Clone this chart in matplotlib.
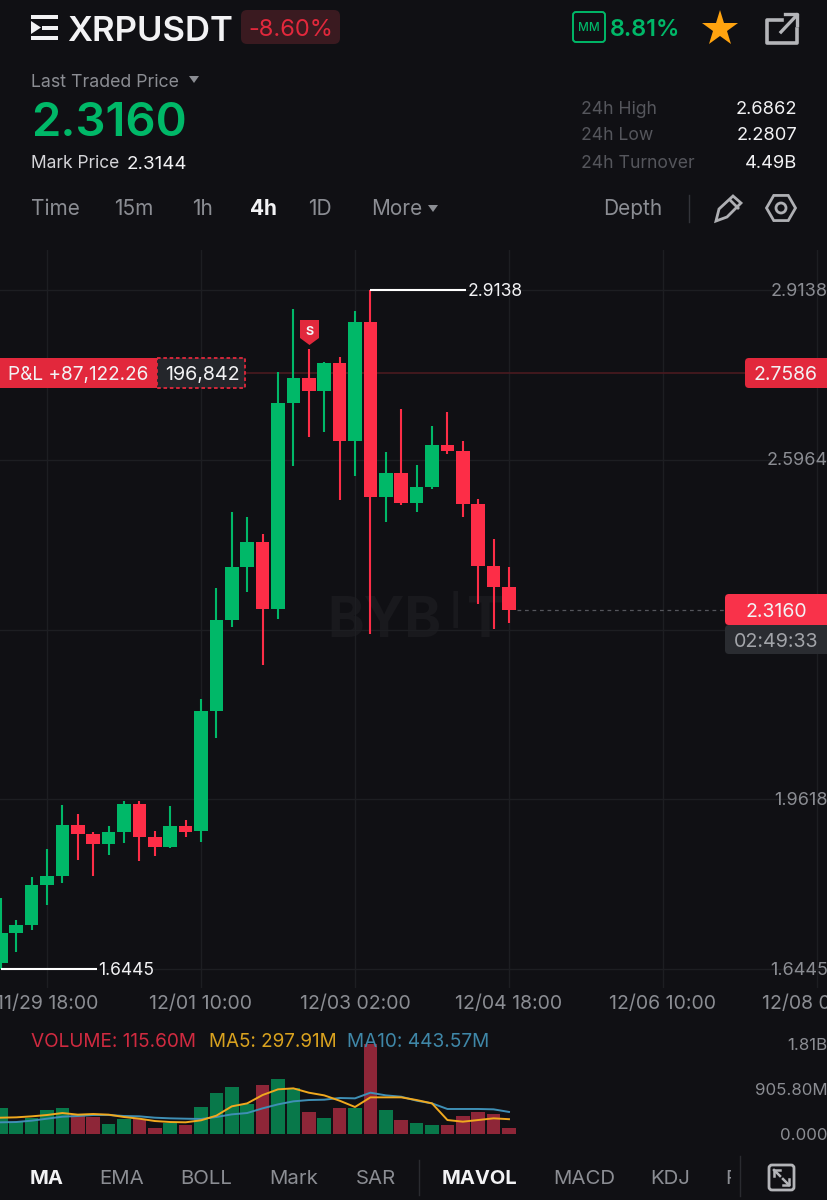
import matplotlib
matplotlib.use('Agg')
import matplotlib.pyplot as plt
from matplotlib.patches import Rectangle, Polygon, FancyBboxPatch, Circle, RegularPolygon
from matplotlib.transforms import blended_transform_factory

plt.rcParams['font.family'] = ['Inter', 'DejaVu Sans']

# candles, oldest first
opens = [1.6552, 1.7118, 1.7268, 1.8015, 1.8184, 1.9137, 1.8969, 1.8782, 1.9006, 1.9524, 1.8918, 1.8731,
         1.9124, 1.9025, 2.1268, 2.2969, 2.3966, 2.4422, 2.3169, 2.7020, 2.7499, 2.7250, 2.7768, 2.6315,
         2.8540, 2.5263, 2.5723, 2.5151, 2.5461, 2.6246, 2.6128, 2.5143, 2.3984, 2.3592]
closes = [1.7112, 1.7268, 1.8015, 1.8184, 1.9137, 1.8969, 1.8782, 1.9006, 1.9524, 1.8918, 1.8731, 1.9124,
          1.9012, 2.1268, 2.2969, 2.3966, 2.4422, 2.3169, 2.7020, 2.7499, 2.7250, 2.7768, 2.6315, 2.8540,
          2.5263, 2.5723, 2.5151, 2.5461, 2.6246, 2.6128, 2.5143, 2.3984, 2.3592, 2.3160]
highs = [1.7767, 1.7361, 1.8159, 1.8683, 1.9505, 1.9343, 1.9006, 1.9118, 1.9591, 1.9586, 1.9030, 1.9492,
         1.9230, 2.1487, 2.3562, 2.4994, 2.4900, 2.4577, 2.7611, 2.8789, 2.8035, 2.7798, 2.7891, 2.8751,
         2.9138, 2.6110, 2.6908, 2.5867, 2.6602, 2.6863, 2.6321, 2.5237, 2.4478, 2.3966]
lows = [1.6445, 1.6768, 1.7174, 1.7641, 1.8047, 1.8483, 1.8184, 1.8571, 1.8795, 1.8470, 1.8563, 1.8701,
        1.8918, 1.8814, 2.0769, 2.2844, 2.3498, 2.2128, 2.2982, 2.5848, 2.6385, 2.6489, 2.5212, 2.5661,
        2.2707, 2.4801, 2.5114, 2.4994, 2.5418, 2.6072, 2.4889, 2.3263, 2.2801, 2.2907]
volumes = [516, 248, 315, 482, 516, 382, 348, 201, 301, 295, 121, 228, 181, 536, 824, 945, 603, 978,
           1105, 918, 435, 328, 516, 529, 1810, 482, 281, 221, 181, 181, 362, 442, 395, 115.6]
ma5 = [328, 335, 355, 382, 422, 389, 402, 389, 342, 308, 261, 241, 235, 275, 369, 556, 616, 784,
       898, 918, 831, 777, 670, 543, 737, 737, 737, 683, 616, 281, 248, 281, 315, 297.91]
ma10 = [235, 241, 268, 308, 348, 362, 382, 382, 362, 355, 328, 315, 308, 302, 342, 395, 422, 516,
        596, 657, 683, 690, 724, 717, 831, 777, 750, 670, 616, 503, 503, 503, 496, 443.57]

price_ticks = [2.9138, 2.5964, 2.2791, 1.9618, 1.6445]
price_labels = ['2.9138', '2.5964', '', '1.9618', '1.6445']
date_pos = [3, 13, 23, 33, 43, 53]
date_labels = ['11/29 18:00', '12/01 10:00', '12/03 02:00', '12/04 18:00', '12/06 10:00', '12/08 02:00']
vol_labels = ['1.81B', '905.80M', '0.000']

BG = '#101014'
GREEN = '#00b868'
RED = '#fd2d47'
TAG = '#e2283c'
GREY = '#8b8d93'
DIM = '#55565c'
WHITE = '#f2f2f4'
GRID = '#1d1e22'

W, H = 828, 1200
fig = plt.figure(figsize=(8.28, 12), dpi=100, facecolor=BG)

def px_axes(top, bottom):
    return fig.add_axes([0, 1 - bottom / H, 1, (bottom - top) / H])

# x: 15.4 px per candle, first candle at 0.8 px
xlim = (-0.8 / 15.4, (W - 0.8) / 15.4)
idx = list(range(len(opens)))
cols = [GREEN if c >= o else RED for o, c in zip(opens, closes)]

# price panel
ax = px_axes(250, 988)
ax.set_facecolor('none')
ax.set_xlim(xlim)
ax.set_ylim(1.6090, 2.9886)
for s in ax.spines.values():
    s.set_visible(False)
ax.set_xticks(date_pos)
ax.set_xticklabels(date_labels, fontsize=14, color=GREY)
ax.tick_params(axis='x', length=0, pad=5)
ax.set_yticks(price_ticks)
ax.tick_params(axis='y', length=0, labelleft=False)
ax.grid(True, color=GRID, lw=1)
ax.set_axisbelow(True)

# watermark
ax.text(24.9, 2.2932, 'BYB', fontsize=40, fontweight='bold', color='#19191d', ha='center', va='center', zorder=0.5)
ax.text(29.5, 2.3080, 'I', fontsize=36, fontweight='normal', color='#19191d', ha='center', va='center', zorder=0.5)
ax.text(31.5, 2.2932, 'T', fontsize=40, fontweight='bold', color='#19191d', ha='center', va='center', zorder=0.5)

ax.axhline(2.7586, color='#4a1a20', lw=1.2, zorder=1)
ax.plot([33.5, 47.1], [2.3160, 2.3160], color='#55565c', lw=0.9, ls=(0, (3, 3)), zorder=1)

ax.vlines(idx, lows, highs, colors=cols, lw=1.5, zorder=2)
ax.bar(idx, [abs(c - o) for o, c in zip(opens, closes)], bottom=[min(o, c) for o, c in zip(opens, closes)],
       width=0.88, color=cols, zorder=3)

ax.plot([24, 30.2], [2.9138, 2.9138], color='white', lw=1.5, zorder=4, solid_capstyle='butt')
ax.text(30.3, 2.9110, '2.9138', color=WHITE, fontsize=12.6, va='center', ha='left')
ax.plot([0, 6.25], [1.6445, 1.6445], color='white', lw=1.5, zorder=4, solid_capstyle='butt')
ax.text(6.3, 1.6417, '1.6445', color=WHITE, fontsize=12.6, va='center', ha='left')

tr = blended_transform_factory(fig.transFigure, ax.transData)
for p, lab in zip(price_ticks, price_labels):
    ax.text(1.0, p - 0.002, lab, transform=tr, color=GREY, fontsize=13, ha='right', va='center')

# volume panel
vax = px_axes(1030, 1134)
vax.set_facecolor('none')
vax.set_xlim(xlim)
vax.set_ylim(0, 1810 * 104 / 90)
vax.axis('off')
vcols = ['#08784a' if c >= o else '#8e2638' for o, c in zip(opens, closes)]
vax.bar(idx, volumes, width=0.88, color=vcols, zorder=2)
vax.plot(idx, ma10, color='#3f8fb5', lw=1.4, zorder=3)
vax.plot(idx, ma5, color='#f0a81e', lw=1.4, zorder=4)

# everything else in pixel coords
ui = fig.add_axes([0, 0, 1, 1], facecolor='none')
ui.set_xlim(0, W)
ui.set_ylim(H, 0)
ui.axis('off')

def t(x, y, s, size=13, color=WHITE, ha='left', weight='normal', z=10):
    return ui.text(x, y + 0.15 * size, s, fontsize=size, color=color, ha=ha, va='center', fontweight=weight, zorder=z)

def rbox(x0, y0, x1, y1, r, fc='none', ec='none', lw=0, z=5, ls='-'):
    ui.add_patch(FancyBboxPatch((x0 + r, y0 + r), x1 - x0 - 2 * r, y1 - y0 - 2 * r,
                                boxstyle='round,pad=%g,rounding_size=%g' % (r, r),
                                fc=fc, ec=ec, lw=lw, zorder=z, ls=ls))

# header
for yy, x1 in [(17, 58), (38, 58)]:
    ui.add_patch(Rectangle((31, yy - 2), x1 - 31, 4, fc=WHITE, zorder=5))
ui.add_patch(Rectangle((42, 25.5), 16, 4, fc=WHITE, zorder=5))
ui.add_patch(Polygon([[31, 21], [41, 27.5], [31, 34]], fc=WHITE, zorder=5))
t(67, 28, 'XRPUSDT', 25, WHITE, weight='semibold')
rbox(241, 10, 340, 44, 6, fc='#3a1a20')
t(290.5, 27, '-8.60%', 17, TAG, ha='center')

rbox(573, 12, 605, 42, 3, ec=GREEN, lw=1.4)
t(589, 27, 'MM', 8.5, GREEN, ha='center', weight='medium')
t(610, 27, '8.81%', 16.8, GREEN, weight='semibold')
ui.plot([720], [29], marker='*', ms=27, color='#ffa30f', zorder=6, mew=0)
# share icon
ui.plot([782, 767, 767, 797, 797], [20, 20, 43, 43, 29], color='#b4b5b9', lw=2.6, zorder=6)
ui.plot([781, 797], [32, 15], color='#b4b5b9', lw=2.4, zorder=6)
ui.plot([785, 797, 797], [14, 14, 25], color='#b4b5b9', lw=2.4, zorder=6)

t(31, 81, 'Last Traded Price', 12.8, GREY)
ui.add_patch(Polygon([[189, 76], [199, 76], [194, 83]], fc=GREY, zorder=6))
t(31, 119, '2.3160', 34, GREEN, weight='semibold')
t(31, 162, 'Mark Price', 12.5, '#d4d4d8')
t(127, 162, '2.3144', 13.5, WHITE)

for y, lab, val in [(108, '24h High', '2.6862'), (134, '24h Low', '2.2807'), (162, '24h Turnover', '4.49B')]:
    t(581, y, lab, 12.7, DIM)
    t(797, y, val, 13.2, WHITE, ha='right')

for x, lab in [(31, 'Time'), (114, '15m'), (192, '1h'), (308, '1D'), (371, 'More'), (603, 'Depth')]:
    t(x, 207, lab, 15, GREY)
t(250, 207, '4h', 15, WHITE, weight='bold')
ui.add_patch(Polygon([[428, 205], [438, 205], [433, 212]], fc=GREY, zorder=6))
ui.plot([689, 689], [195, 222], color='#33343a', lw=1, zorder=6)
# pencil and settings
ui.add_patch(Polygon([[716, 221], [719, 209], [733, 196], [741, 203], [727, 217]], fc='none', ec='#aeafb3', lw=2, zorder=6))
ui.plot([730, 738], [200, 208], color='#aeafb3', lw=2, zorder=6)
ui.add_patch(RegularPolygon((781, 208), 6, radius=14.5, orientation=3.14159 / 2, fc='none', ec='#aeafb3', lw=2, zorder=6))
ui.add_patch(Circle((781, 208), 5, fc='none', ec='#aeafb3', lw=2, zorder=6))

# P&L tag
ui.add_patch(Rectangle((0, 358), 157, 30, fc=TAG, zorder=6))
t(8, 373, 'P&L +87,122.26', 13.7, WHITE)
ui.add_patch(Rectangle((157, 358), 88.5, 30, fc='#24262b', ec=TAG, lw=1.3, ls=(0, (2, 1.5)), zorder=6))
t(202, 373, '196,842', 14.2, WHITE, ha='center')
# sell badge
ui.add_patch(Polygon([[300, 320], [319, 320], [319, 338], [309.5, 345], [300, 338]], fc=TAG, zorder=6))
t(309.5, 331, 'S', 9, WHITE, ha='center', weight='bold')

# price tags
rbox(745, 358, 845, 388, 4, fc=TAG, z=6)
t(786, 373, '2.7586', 14, WHITE, ha='center')
rbox(725, 625, 845, 654, 4, fc='#2a2c31', z=6)
rbox(725, 594, 845, 625, 4, fc='#f9324a', z=6)
t(776, 610, '2.3160', 14, WHITE, ha='center')
t(776, 640, '02:49:33', 14.2, '#a2a4a9', ha='center')

# volume legend
t(31, 1040, 'VOLUME: 115.60M', 13.7, '#d02a40', z=1)
t(209, 1040, 'MA5: 297.91M', 13.6, '#d9a21f', z=1)
t(347, 1040, 'MA10: 443.57M', 13.7, '#3f87a8', z=1)
for yy, lab in zip([1044, 1089, 1134], vol_labels):
    t(828, yy, lab, 12.2, GREY, ha='right')

# indicator tabs
for x, lab in [(99, 'EMA'), (180, 'BOLL'), (269, 'Mark'), (356, 'SAR'), (553, 'MACD'), (650, 'KDJ'), (725, 'R')]:
    t(x, 1177, lab, 14.7, GREY)
t(30, 1177, 'MA', 14.5, WHITE, weight='bold')
t(442, 1177, 'MAVOL', 14.5, WHITE, weight='bold')
ui.plot([419, 419], [1160, 1195], color='#2a2b30', lw=1, zorder=6)
ui.add_patch(Rectangle((731, 1155), 97, 45, fc=BG, zorder=11))
ui.plot([740.5, 740.5], [1156, 1196], color='#2a2b30', lw=1, zorder=12)
rbox(769, 1165, 794, 1190, 3, ec='#b4b5b9', lw=2, z=12)
ui.plot([774, 780], [1170, 1176], color='#b4b5b9', lw=1.8, zorder=12)
ui.plot([774, 774, 780], [1176, 1170, 1170], color='#b4b5b9', lw=1.8, zorder=12)
ui.plot([783, 789], [1179, 1185], color='#b4b5b9', lw=1.8, zorder=12)
ui.plot([783, 789, 789], [1185, 1185, 1179], color='#b4b5b9', lw=1.8, zorder=12)

fig.savefig('out.png', dpi=100, facecolor=BG)
